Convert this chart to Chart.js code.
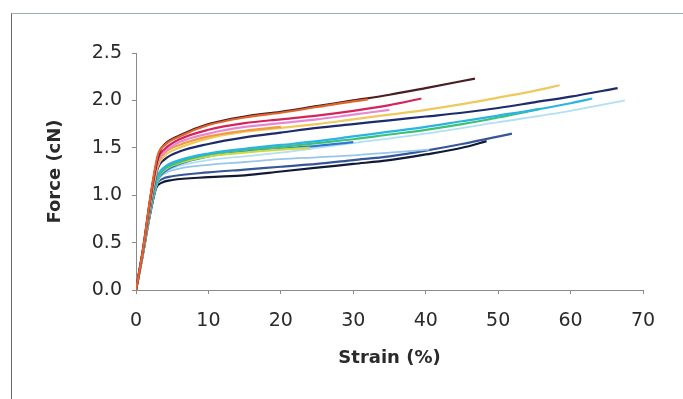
<!DOCTYPE html>
<html>
<head>
<meta charset="utf-8">
<script src="https://cdn.jsdelivr.net/npm/chart.js@4/dist/chart.umd.min.js"></script>
<style>
  html, body { margin: 0; padding: 0; background: #ffffff; }
  #wrap { position: relative; width: 683px; height: 399px; overflow: hidden; }
  #frame { position: absolute; left: 11px; top: 13px; width: 700px; height: 400px;
           border-left: 1px solid #6a6a6a; border-top: 1px solid #9fb0a8; }
  canvas { position: absolute; left: 0; top: 0; }
</style>
</head>
<body>
<div id="wrap">
  <div id="frame"></div>
  <canvas id="c" width="683" height="399"></canvas>
</div>
<script>
// ---- data ----
const xTicks = [0, 10, 20, 30, 40, 50, 60, 70];
const yTicks = [0.0, 0.5, 1.0, 1.5, 2.0, 2.5];

const orangeRedX = [0, 1, 2, 3, 4, 6, 10, 15, 20, 25, 30, 32];
const orangeRedY = [0, 0.44, 0.99, 1.42, 1.53, 1.62, 1.74, 1.82, 1.87, 1.93, 1.99, 2.01];

const darkBrownX = [0, 1, 2, 2.6, 3.2, 4, 6, 10, 15, 20, 25, 30, 35, 40, 46.8];
const darkBrownY = [0, 0.45, 0.98, 1.25, 1.45, 1.54, 1.63, 1.75, 1.83, 1.88, 1.94, 2.0, 2.06, 2.13, 2.23];

const magentaX = [0, 1, 2, 3, 4, 6, 10, 15, 20, 25, 30, 35, 39.4];
const magentaY = [0, 0.44, 0.97, 1.38, 1.49, 1.59, 1.69, 1.76, 1.80, 1.84, 1.89, 1.95, 2.02];

const pinkX = [0, 1, 2, 3, 4, 6, 10, 15, 20, 25, 30, 35];
const pinkY = [0, 0.43, 0.95, 1.35, 1.46, 1.56, 1.65, 1.72, 1.76, 1.80, 1.85, 1.90];

const orangeX = [0, 1, 2, 3, 4, 6, 10, 15, 20];
const orangeY = [0, 0.43, 0.94, 1.33, 1.45, 1.53, 1.62, 1.68, 1.72];

const yellowX = [0, 1, 2, 3, 4, 6, 10, 15, 20, 25, 30, 35, 40, 45, 50, 55, 58.5];
const yellowY = [0, 0.42, 0.92, 1.3, 1.42, 1.5, 1.6, 1.67, 1.71, 1.75, 1.80, 1.85, 1.90, 1.96, 2.03, 2.10, 2.16];

const navyX = [0, 1, 2, 3, 4, 6, 10, 15, 20, 25, 30, 35, 40, 45, 50, 55, 60, 66.5];
const navyY = [0, 0.42, 0.9, 1.28, 1.38, 1.46, 1.54, 1.61, 1.66, 1.71, 1.75, 1.79, 1.83, 1.87, 1.92, 1.98, 2.04, 2.13];

const cyanX = [0, 1, 2, 3, 4, 6, 10, 15, 20, 25, 30, 35, 40, 45, 50, 55, 60, 63];
const cyanY = [0, 0.4, 0.86, 1.2, 1.3, 1.37, 1.44, 1.49, 1.53, 1.57, 1.62, 1.67, 1.72, 1.78, 1.84, 1.90, 1.97, 2.02];

const greenX = [0, 1, 2, 3, 4, 6, 10, 15, 20, 25, 30, 35, 40, 45, 50, 55.8];
const greenY = [0, 0.4, 0.86, 1.18, 1.28, 1.35, 1.43, 1.48, 1.51, 1.55, 1.59, 1.64, 1.69, 1.75, 1.82, 1.91];

const limeX = [0, 1, 2, 3, 4, 6, 10, 15, 20, 24];
const limeY = [0, 0.4, 0.85, 1.17, 1.27, 1.34, 1.41, 1.45, 1.48, 1.50];

const blueX = [0, 1, 2, 3, 4, 6, 10, 15, 20, 25, 30];
const blueY = [0, 0.4, 0.85, 1.16, 1.25, 1.33, 1.41, 1.46, 1.49, 1.52, 1.56];

const paleCyanX = [0, 1, 2, 3, 4, 6, 10, 15, 20, 30, 40, 50, 60, 67.5];
const paleCyanY = [0, 0.4, 0.84, 1.14, 1.24, 1.31, 1.37, 1.41, 1.45, 1.55, 1.65, 1.77, 1.89, 2.0];

const lightBlueX = [0, 1, 2, 3, 4, 6, 10, 15, 20, 25, 30, 35, 40.5];
const lightBlueY = [0, 0.4, 0.85, 1.16, 1.23, 1.28, 1.32, 1.35, 1.38, 1.40, 1.42, 1.45, 1.48];

const steelX = [0, 1, 2, 2.9, 3.6, 5, 10, 15, 20, 25, 30, 35, 40, 45, 51.9];
const steelY = [0, 0.4, 0.84, 1.12, 1.17, 1.2, 1.24, 1.27, 1.30, 1.33, 1.37, 1.41, 1.47, 1.54, 1.65];

const blackX = [0, 1, 2, 2.8, 3.5, 5, 10, 15, 20, 25, 30, 35, 40, 45, 48.4];
const blackY = [0, 0.4, 0.82, 1.08, 1.13, 1.16, 1.19, 1.21, 1.25, 1.29, 1.33, 1.37, 1.43, 1.50, 1.57];

// ---- build datasets ----
function pts(xs, ys) { return xs.map((x, i) => ({ x: x, y: ys[i] })); }
const series = [
  { x: orangeRedX, y: orangeRedY, c: '#e0642c', w: 2.2 },
  { x: darkBrownX, y: darkBrownY, c: '#4a1d20', w: 2.2 },
  { x: magentaX,   y: magentaY,   c: '#d3245c', w: 2.2 },
  { x: pinkX,      y: pinkY,      c: '#e58ad2', w: 2.2 },
  { x: orangeX,    y: orangeY,    c: '#f29a40', w: 2.2 },
  { x: yellowX,    y: yellowY,    c: '#eec95e', w: 2.2 },
  { x: navyX,      y: navyY,      c: '#1d2b6c', w: 2.2 },
  { x: cyanX,      y: cyanY,      c: '#2ab4e4', w: 2.2 },
  { x: greenX,     y: greenY,     c: '#3fc074', w: 2.2 },
  { x: limeX,      y: limeY,      c: '#c9dc44', w: 2.2 },
  { x: blueX,      y: blueY,      c: '#2f78d2', w: 2.2 },
  { x: paleCyanX,  y: paleCyanY,  c: '#b2e0f2', w: 1.8 },
  { x: lightBlueX, y: lightBlueY, c: '#98c6ea', w: 1.8 },
  { x: steelX,     y: steelY,     c: '#35579a', w: 2.2 },
  { x: blackX,     y: blackY,     c: '#111a33', w: 2.2 }
];
const datasets = series.map((s, i) => ({
  data: pts(s.x, s.y),
  borderColor: s.c,
  backgroundColor: s.c,
  borderWidth: s.w,
  showLine: true,
  pointRadius: 0,
  cubicInterpolationMode: 'monotone',
  order: i
}));

const fontFam = '"DejaVu Sans", "Liberation Sans", Arial, sans-serif';

new Chart(document.getElementById('c'), {
  type: 'scatter',
  data: { datasets: datasets },
  options: {
    responsive: false,
    animation: false,
    layout: { padding: { left: 45, right: 40, top: 53, bottom: 30 } },
    plugins: { legend: { display: false }, tooltip: { enabled: false } },
    scales: {
      x: {
        type: 'linear', min: 0, max: 70,
        afterBuildTicks: (s) => { s.ticks = xTicks.map(v => ({ value: v })); },
        afterFit: (s) => { s.height = 79; },
        border: { color: '#8a8a8a', width: 1 },
        grid: { drawOnChartArea: false, drawTicks: true, tickLength: 4, color: '#8a8a8a' },
        ticks: { color: '#2a2a2a', padding: 16, font: { family: fontFam, size: 19 }, maxRotation: 0 },
        title: { display: true, text: 'Strain (%)', color: '#2a2a2a', padding: 0,
                 font: { family: fontFam, size: 18, weight: 'bold' } }
      },
      y: {
        type: 'linear', min: 0, max: 2.5,
        afterBuildTicks: (s) => { s.ticks = yTicks.map(v => ({ value: v })); },
        afterFit: (s) => { s.width = 136 - 45; },
        border: { color: '#8a8a8a', width: 1 },
        grid: { drawOnChartArea: false, drawTicks: true, tickLength: 4, color: '#8a8a8a' },
        ticks: { color: '#2a2a2a', padding: 10, font: { family: fontFam, size: 19 },
                 callback: (v) => Number(v).toFixed(1) },
        title: { display: true, text: 'Force (cN)', color: '#2a2a2a', padding: 0,
                 font: { family: fontFam, size: 18, weight: 'bold' } }
      }
    }
  }
});
</script>
</body>
</html>
